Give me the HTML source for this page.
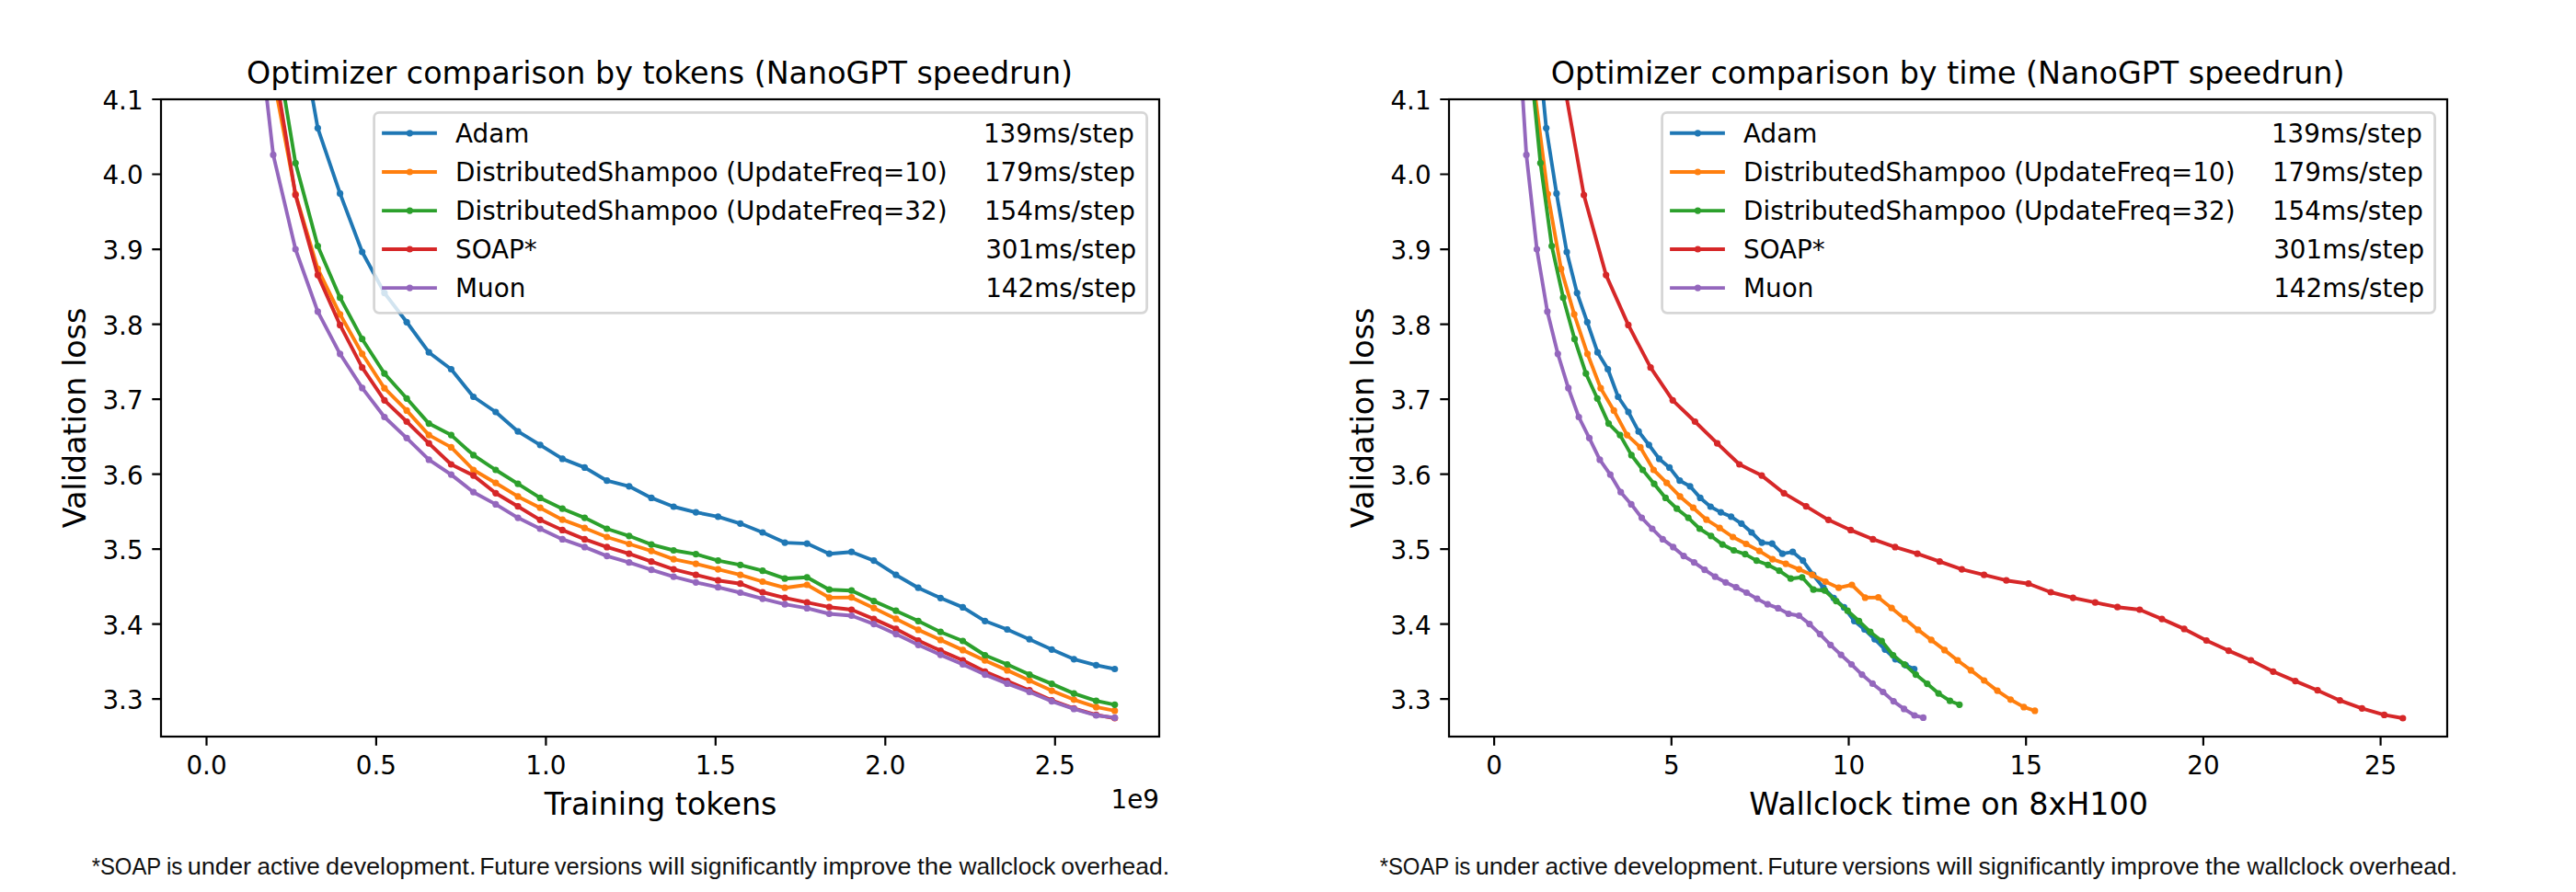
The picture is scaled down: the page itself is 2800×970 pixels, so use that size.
<!DOCTYPE html>
<html lang="en"><head><meta charset="utf-8"><title>Optimizer comparison (NanoGPT speedrun)</title>
<style>html,body{margin:0;padding:0;background:#fff;}body{width:2800px;height:970px;overflow:hidden;}svg{display:block;}text{font-family:'DejaVu Sans','Liberation Sans',sans-serif;fill:#000;}text.fn{font-family:"Liberation Sans","DejaVu Sans",sans-serif;fill:#111;}</style></head><body>
<svg width="2800" height="970" viewBox="0 0 2800 970">
<rect x="0" y="0" width="2800" height="970" fill="#ffffff"/>
<defs><clipPath id="cl"><rect x="175" y="108" width="1085" height="693"/></clipPath><clipPath id="cr"><rect x="1575" y="108" width="1085" height="693"/></clipPath></defs>
<g clip-path="url(#cl)">
<polyline fill="none" stroke="#1f77b4" stroke-width="3.90" stroke-linejoin="round" stroke-linecap="butt" points="321.2,2.6 345.4,139.3 369.6,210.4 393.7,274.0 417.9,318.6 442.1,350.3 466.2,383.2 490.4,401.5 514.6,431.5 538.8,448.0 563.0,469.2 587.1,483.8 611.3,498.9 635.5,508.4 659.7,522.7 683.8,528.8 708.0,541.4 732.2,551.0 756.4,557.1 780.5,561.8 804.7,569.3 828.9,579.0 853.1,590.1 877.2,591.1 901.4,602.2 925.6,600.2 949.8,609.6 973.9,625.2 998.1,639.2 1022.3,650.3 1046.5,660.4 1070.6,675.3 1094.8,684.5 1119.0,695.2 1143.2,706.3 1167.3,716.8 1191.5,723.3 1211.7,727.5"/>
<g fill="#1f77b4"><circle cx="321.2" cy="2.6" r="3.6"/><circle cx="345.4" cy="139.3" r="3.6"/><circle cx="369.6" cy="210.4" r="3.6"/><circle cx="393.7" cy="274.0" r="3.6"/><circle cx="417.9" cy="318.6" r="3.6"/><circle cx="442.1" cy="350.3" r="3.6"/><circle cx="466.2" cy="383.2" r="3.6"/><circle cx="490.4" cy="401.5" r="3.6"/><circle cx="514.6" cy="431.5" r="3.6"/><circle cx="538.8" cy="448.0" r="3.6"/><circle cx="563.0" cy="469.2" r="3.6"/><circle cx="587.1" cy="483.8" r="3.6"/><circle cx="611.3" cy="498.9" r="3.6"/><circle cx="635.5" cy="508.4" r="3.6"/><circle cx="659.7" cy="522.7" r="3.6"/><circle cx="683.8" cy="528.8" r="3.6"/><circle cx="708.0" cy="541.4" r="3.6"/><circle cx="732.2" cy="551.0" r="3.6"/><circle cx="756.4" cy="557.1" r="3.6"/><circle cx="780.5" cy="561.8" r="3.6"/><circle cx="804.7" cy="569.3" r="3.6"/><circle cx="828.9" cy="579.0" r="3.6"/><circle cx="853.1" cy="590.1" r="3.6"/><circle cx="877.2" cy="591.1" r="3.6"/><circle cx="901.4" cy="602.2" r="3.6"/><circle cx="925.6" cy="600.2" r="3.6"/><circle cx="949.8" cy="609.6" r="3.6"/><circle cx="973.9" cy="625.2" r="3.6"/><circle cx="998.1" cy="639.2" r="3.6"/><circle cx="1022.3" cy="650.3" r="3.6"/><circle cx="1046.5" cy="660.4" r="3.6"/><circle cx="1070.6" cy="675.3" r="3.6"/><circle cx="1094.8" cy="684.5" r="3.6"/><circle cx="1119.0" cy="695.2" r="3.6"/><circle cx="1143.2" cy="706.3" r="3.6"/><circle cx="1167.3" cy="716.8" r="3.6"/><circle cx="1191.5" cy="723.3" r="3.6"/><circle cx="1211.7" cy="727.5" r="3.6"/></g>
<polyline fill="none" stroke="#ff7f0e" stroke-width="3.90" stroke-linejoin="round" stroke-linecap="butt" points="297.0,83.0 321.2,211.0 345.4,292.4 369.6,341.8 393.7,384.8 417.9,422.2 442.1,446.4 466.2,473.1 490.4,486.4 514.6,511.0 538.8,525.2 563.0,539.9 587.1,552.2 611.3,565.2 635.5,574.2 659.7,584.0 683.8,591.5 708.0,599.1 732.2,608.2 756.4,613.1 780.5,619.1 804.7,625.2 828.9,632.5 853.1,639.2 877.2,636.0 901.4,649.9 925.6,649.7 949.8,661.2 973.9,672.9 998.1,684.9 1022.3,695.9 1046.5,706.9 1070.6,718.2 1094.8,728.9 1119.0,740.0 1143.2,751.1 1167.3,760.8 1191.5,768.9 1211.7,772.9"/>
<g fill="#ff7f0e"><circle cx="297.0" cy="83.0" r="3.6"/><circle cx="321.2" cy="211.0" r="3.6"/><circle cx="345.4" cy="292.4" r="3.6"/><circle cx="369.6" cy="341.8" r="3.6"/><circle cx="393.7" cy="384.8" r="3.6"/><circle cx="417.9" cy="422.2" r="3.6"/><circle cx="442.1" cy="446.4" r="3.6"/><circle cx="466.2" cy="473.1" r="3.6"/><circle cx="490.4" cy="486.4" r="3.6"/><circle cx="514.6" cy="511.0" r="3.6"/><circle cx="538.8" cy="525.2" r="3.6"/><circle cx="563.0" cy="539.9" r="3.6"/><circle cx="587.1" cy="552.2" r="3.6"/><circle cx="611.3" cy="565.2" r="3.6"/><circle cx="635.5" cy="574.2" r="3.6"/><circle cx="659.7" cy="584.0" r="3.6"/><circle cx="683.8" cy="591.5" r="3.6"/><circle cx="708.0" cy="599.1" r="3.6"/><circle cx="732.2" cy="608.2" r="3.6"/><circle cx="756.4" cy="613.1" r="3.6"/><circle cx="780.5" cy="619.1" r="3.6"/><circle cx="804.7" cy="625.2" r="3.6"/><circle cx="828.9" cy="632.5" r="3.6"/><circle cx="853.1" cy="639.2" r="3.6"/><circle cx="877.2" cy="636.0" r="3.6"/><circle cx="901.4" cy="649.9" r="3.6"/><circle cx="925.6" cy="649.7" r="3.6"/><circle cx="949.8" cy="661.2" r="3.6"/><circle cx="973.9" cy="672.9" r="3.6"/><circle cx="998.1" cy="684.9" r="3.6"/><circle cx="1022.3" cy="695.9" r="3.6"/><circle cx="1046.5" cy="706.9" r="3.6"/><circle cx="1070.6" cy="718.2" r="3.6"/><circle cx="1094.8" cy="728.9" r="3.6"/><circle cx="1119.0" cy="740.0" r="3.6"/><circle cx="1143.2" cy="751.1" r="3.6"/><circle cx="1167.3" cy="760.8" r="3.6"/><circle cx="1191.5" cy="768.9" r="3.6"/><circle cx="1211.7" cy="772.9" r="3.6"/></g>
<polyline fill="none" stroke="#2ca02c" stroke-width="3.90" stroke-linejoin="round" stroke-linecap="butt" points="297.0,31.5 321.2,177.3 345.4,267.5 369.6,323.7 393.7,368.7 417.9,406.2 442.1,433.3 466.2,460.6 490.4,473.1 514.6,494.9 538.8,511.0 563.0,526.2 587.1,541.4 611.3,553.2 635.5,563.1 659.7,575.0 683.8,582.8 708.0,592.1 732.2,598.5 756.4,602.6 780.5,609.6 804.7,614.3 828.9,620.7 853.1,629.2 877.2,627.8 901.4,641.2 925.6,642.2 949.8,653.6 973.9,664.2 998.1,675.3 1022.3,687.2 1046.5,697.0 1070.6,712.5 1094.8,722.5 1119.0,733.6 1143.2,743.6 1167.3,754.1 1191.5,762.2 1211.7,766.3"/>
<g fill="#2ca02c"><circle cx="297.0" cy="31.5" r="3.6"/><circle cx="321.2" cy="177.3" r="3.6"/><circle cx="345.4" cy="267.5" r="3.6"/><circle cx="369.6" cy="323.7" r="3.6"/><circle cx="393.7" cy="368.7" r="3.6"/><circle cx="417.9" cy="406.2" r="3.6"/><circle cx="442.1" cy="433.3" r="3.6"/><circle cx="466.2" cy="460.6" r="3.6"/><circle cx="490.4" cy="473.1" r="3.6"/><circle cx="514.6" cy="494.9" r="3.6"/><circle cx="538.8" cy="511.0" r="3.6"/><circle cx="563.0" cy="526.2" r="3.6"/><circle cx="587.1" cy="541.4" r="3.6"/><circle cx="611.3" cy="553.2" r="3.6"/><circle cx="635.5" cy="563.1" r="3.6"/><circle cx="659.7" cy="575.0" r="3.6"/><circle cx="683.8" cy="582.8" r="3.6"/><circle cx="708.0" cy="592.1" r="3.6"/><circle cx="732.2" cy="598.5" r="3.6"/><circle cx="756.4" cy="602.6" r="3.6"/><circle cx="780.5" cy="609.6" r="3.6"/><circle cx="804.7" cy="614.3" r="3.6"/><circle cx="828.9" cy="620.7" r="3.6"/><circle cx="853.1" cy="629.2" r="3.6"/><circle cx="877.2" cy="627.8" r="3.6"/><circle cx="901.4" cy="641.2" r="3.6"/><circle cx="925.6" cy="642.2" r="3.6"/><circle cx="949.8" cy="653.6" r="3.6"/><circle cx="973.9" cy="664.2" r="3.6"/><circle cx="998.1" cy="675.3" r="3.6"/><circle cx="1022.3" cy="687.2" r="3.6"/><circle cx="1046.5" cy="697.0" r="3.6"/><circle cx="1070.6" cy="712.5" r="3.6"/><circle cx="1094.8" cy="722.5" r="3.6"/><circle cx="1119.0" cy="733.6" r="3.6"/><circle cx="1143.2" cy="743.6" r="3.6"/><circle cx="1167.3" cy="754.1" r="3.6"/><circle cx="1191.5" cy="762.2" r="3.6"/><circle cx="1211.7" cy="766.3" r="3.6"/></g>
<polyline fill="none" stroke="#d62728" stroke-width="3.90" stroke-linejoin="round" stroke-linecap="butt" points="297.0,64.0 321.2,212.0 345.4,299.1 369.6,353.4 393.7,399.7 417.9,435.3 442.1,458.5 466.2,482.2 490.4,505.0 514.6,517.1 538.8,536.3 563.0,550.7 587.1,565.3 611.3,576.4 635.5,586.4 659.7,594.9 683.8,602.2 708.0,610.7 732.2,619.1 756.4,625.2 780.5,631.2 804.7,634.7 828.9,644.0 853.1,650.1 877.2,655.2 901.4,660.2 925.6,663.0 949.8,673.1 973.9,683.9 998.1,696.5 1022.3,707.6 1046.5,718.0 1070.6,730.3 1094.8,740.6 1119.0,750.7 1143.2,761.6 1167.3,770.3 1191.5,777.4 1211.7,781.0"/>
<g fill="#d62728"><circle cx="297.0" cy="64.0" r="3.6"/><circle cx="321.2" cy="212.0" r="3.6"/><circle cx="345.4" cy="299.1" r="3.6"/><circle cx="369.6" cy="353.4" r="3.6"/><circle cx="393.7" cy="399.7" r="3.6"/><circle cx="417.9" cy="435.3" r="3.6"/><circle cx="442.1" cy="458.5" r="3.6"/><circle cx="466.2" cy="482.2" r="3.6"/><circle cx="490.4" cy="505.0" r="3.6"/><circle cx="514.6" cy="517.1" r="3.6"/><circle cx="538.8" cy="536.3" r="3.6"/><circle cx="563.0" cy="550.7" r="3.6"/><circle cx="587.1" cy="565.3" r="3.6"/><circle cx="611.3" cy="576.4" r="3.6"/><circle cx="635.5" cy="586.4" r="3.6"/><circle cx="659.7" cy="594.9" r="3.6"/><circle cx="683.8" cy="602.2" r="3.6"/><circle cx="708.0" cy="610.7" r="3.6"/><circle cx="732.2" cy="619.1" r="3.6"/><circle cx="756.4" cy="625.2" r="3.6"/><circle cx="780.5" cy="631.2" r="3.6"/><circle cx="804.7" cy="634.7" r="3.6"/><circle cx="828.9" cy="644.0" r="3.6"/><circle cx="853.1" cy="650.1" r="3.6"/><circle cx="877.2" cy="655.2" r="3.6"/><circle cx="901.4" cy="660.2" r="3.6"/><circle cx="925.6" cy="663.0" r="3.6"/><circle cx="949.8" cy="673.1" r="3.6"/><circle cx="973.9" cy="683.9" r="3.6"/><circle cx="998.1" cy="696.5" r="3.6"/><circle cx="1022.3" cy="707.6" r="3.6"/><circle cx="1046.5" cy="718.0" r="3.6"/><circle cx="1070.6" cy="730.3" r="3.6"/><circle cx="1094.8" cy="740.6" r="3.6"/><circle cx="1119.0" cy="750.7" r="3.6"/><circle cx="1143.2" cy="761.6" r="3.6"/><circle cx="1167.3" cy="770.3" r="3.6"/><circle cx="1191.5" cy="777.4" r="3.6"/><circle cx="1211.7" cy="781.0" r="3.6"/></g>
<polyline fill="none" stroke="#9467bd" stroke-width="3.90" stroke-linejoin="round" stroke-linecap="butt" points="272.9,-43.0 297.0,168.4 321.2,271.0 345.4,338.8 369.6,384.8 393.7,421.9 417.9,453.5 442.1,476.3 466.2,499.9 490.4,516.1 514.6,535.2 538.8,548.4 563.0,563.1 587.1,575.0 611.3,586.4 635.5,594.9 659.7,604.6 683.8,611.7 708.0,619.7 732.2,627.2 756.4,633.3 780.5,638.7 804.7,644.5 828.9,651.1 853.1,657.2 877.2,661.4 901.4,667.5 925.6,669.5 949.8,678.6 973.9,689.6 998.1,701.3 1022.3,712.1 1046.5,722.5 1070.6,733.6 1094.8,743.4 1119.0,752.5 1143.2,762.6 1167.3,770.9 1191.5,778.0 1211.7,780.4"/>
<g fill="#9467bd"><circle cx="272.9" cy="-43.0" r="3.6"/><circle cx="297.0" cy="168.4" r="3.6"/><circle cx="321.2" cy="271.0" r="3.6"/><circle cx="345.4" cy="338.8" r="3.6"/><circle cx="369.6" cy="384.8" r="3.6"/><circle cx="393.7" cy="421.9" r="3.6"/><circle cx="417.9" cy="453.5" r="3.6"/><circle cx="442.1" cy="476.3" r="3.6"/><circle cx="466.2" cy="499.9" r="3.6"/><circle cx="490.4" cy="516.1" r="3.6"/><circle cx="514.6" cy="535.2" r="3.6"/><circle cx="538.8" cy="548.4" r="3.6"/><circle cx="563.0" cy="563.1" r="3.6"/><circle cx="587.1" cy="575.0" r="3.6"/><circle cx="611.3" cy="586.4" r="3.6"/><circle cx="635.5" cy="594.9" r="3.6"/><circle cx="659.7" cy="604.6" r="3.6"/><circle cx="683.8" cy="611.7" r="3.6"/><circle cx="708.0" cy="619.7" r="3.6"/><circle cx="732.2" cy="627.2" r="3.6"/><circle cx="756.4" cy="633.3" r="3.6"/><circle cx="780.5" cy="638.7" r="3.6"/><circle cx="804.7" cy="644.5" r="3.6"/><circle cx="828.9" cy="651.1" r="3.6"/><circle cx="853.1" cy="657.2" r="3.6"/><circle cx="877.2" cy="661.4" r="3.6"/><circle cx="901.4" cy="667.5" r="3.6"/><circle cx="925.6" cy="669.5" r="3.6"/><circle cx="949.8" cy="678.6" r="3.6"/><circle cx="973.9" cy="689.6" r="3.6"/><circle cx="998.1" cy="701.3" r="3.6"/><circle cx="1022.3" cy="712.1" r="3.6"/><circle cx="1046.5" cy="722.5" r="3.6"/><circle cx="1070.6" cy="733.6" r="3.6"/><circle cx="1094.8" cy="743.4" r="3.6"/><circle cx="1119.0" cy="752.5" r="3.6"/><circle cx="1143.2" cy="762.6" r="3.6"/><circle cx="1167.3" cy="770.9" r="3.6"/><circle cx="1191.5" cy="778.0" r="3.6"/><circle cx="1211.7" cy="780.4" r="3.6"/></g>
</g>
<path d="M224.5,801.0v9.7M408.9,801.0v9.7M593.4,801.0v9.7M777.8,801.0v9.7M962.3,801.0v9.7M1146.8,801.0v9.7M175.0,760.2h-9.7M175.0,678.7h-9.7M175.0,597.2h-9.7M175.0,515.6h-9.7M175.0,434.1h-9.7M175.0,352.6h-9.7M175.0,271.1h-9.7M175.0,189.5h-9.7M175.0,108.0h-9.7" stroke="#000" stroke-width="2.2" fill="none"/>
<rect x="175.0" y="108.0" width="1085.0" height="693.0" fill="none" stroke="#000" stroke-width="2.2"/>
<text x="224.5" y="842.0" font-size="27.78" text-anchor="middle">0.0</text>
<text x="408.9" y="842.0" font-size="27.78" text-anchor="middle">0.5</text>
<text x="593.4" y="842.0" font-size="27.78" text-anchor="middle">1.0</text>
<text x="777.8" y="842.0" font-size="27.78" text-anchor="middle">1.5</text>
<text x="962.3" y="842.0" font-size="27.78" text-anchor="middle">2.0</text>
<text x="1146.8" y="842.0" font-size="27.78" text-anchor="middle">2.5</text>
<text x="155.6" y="771.1" font-size="27.78" text-anchor="end">3.3</text>
<text x="155.6" y="689.6" font-size="27.78" text-anchor="end">3.4</text>
<text x="155.6" y="608.1" font-size="27.78" text-anchor="end">3.5</text>
<text x="155.6" y="526.5" font-size="27.78" text-anchor="end">3.6</text>
<text x="155.6" y="445.0" font-size="27.78" text-anchor="end">3.7</text>
<text x="155.6" y="363.5" font-size="27.78" text-anchor="end">3.8</text>
<text x="155.6" y="282.0" font-size="27.78" text-anchor="end">3.9</text>
<text x="155.6" y="200.4" font-size="27.78" text-anchor="end">4.0</text>
<text x="155.6" y="118.9" font-size="27.78" text-anchor="end">4.1</text>
<text x="717.1" y="91.3" font-size="33.33" text-anchor="middle">Optimizer comparison by tokens (NanoGPT speedrun)</text>
<text x="718.1" y="886" font-size="33.33" text-anchor="middle">Training tokens</text>
<text transform="translate(92.5,454.5) rotate(-90)" font-size="33.33" text-anchor="middle">Validation loss</text>
<text x="1260.0" y="879" font-size="27.78" text-anchor="end">1e9</text>
<rect x="406.6" y="122.4" width="840.0" height="217.9" rx="5.5" ry="5.5" fill="#ffffff" fill-opacity="0.8" stroke="#cccccc" stroke-opacity="0.8" stroke-width="2.8"/>
<path d="M415.1,144.8h59.8" stroke="#1f77b4" stroke-width="3.90" fill="none"/>
<circle cx="445.4" cy="144.8" r="3.6" fill="#1f77b4"/>
<text x="495.1" y="155.1" font-size="27.78">Adam</text>
<text x="1068.9" y="155.1" font-size="27.78">139ms/step</text>
<path d="M415.1,187.0h59.8" stroke="#ff7f0e" stroke-width="3.90" fill="none"/>
<circle cx="445.4" cy="187.0" r="3.6" fill="#ff7f0e"/>
<text x="495.1" y="197.3" font-size="27.78">DistributedShampoo (UpdateFreq=10)</text>
<text x="1069.9" y="197.3" font-size="27.78">179ms/step</text>
<path d="M415.1,229.1h59.8" stroke="#2ca02c" stroke-width="3.90" fill="none"/>
<circle cx="445.4" cy="229.1" r="3.6" fill="#2ca02c"/>
<text x="495.1" y="239.4" font-size="27.78">DistributedShampoo (UpdateFreq=32)</text>
<text x="1069.9" y="239.4" font-size="27.78">154ms/step</text>
<path d="M415.1,271.0h59.8" stroke="#d62728" stroke-width="3.90" fill="none"/>
<circle cx="445.4" cy="271.0" r="3.6" fill="#d62728"/>
<text x="495.1" y="281.3" font-size="27.78">SOAP*</text>
<text x="1071.2" y="281.3" font-size="27.78">301ms/step</text>
<path d="M415.1,313.1h59.8" stroke="#9467bd" stroke-width="3.90" fill="none"/>
<circle cx="445.4" cy="313.1" r="3.6" fill="#9467bd"/>
<text x="495.1" y="323.4" font-size="27.78">Muon</text>
<text x="1071.2" y="323.4" font-size="27.78">142ms/step</text>
<text x="99.66" y="951.4" font-size="25.3" class="fn" textLength="75.56" lengthAdjust="spacingAndGlyphs">*SOAP</text>
<text x="180.95" y="951.4" font-size="25.3" class="fn" textLength="17.48" lengthAdjust="spacingAndGlyphs">is</text>
<text x="203.67" y="951.4" font-size="25.3" class="fn" textLength="69.48" lengthAdjust="spacingAndGlyphs">under</text>
<text x="279.55" y="951.4" font-size="25.3" class="fn" textLength="68.29" lengthAdjust="spacingAndGlyphs">active</text>
<text x="354.11" y="951.4" font-size="25.3" class="fn" textLength="163.38" lengthAdjust="spacingAndGlyphs">development.</text>
<text x="521.18" y="951.4" font-size="25.3" class="fn" textLength="76.47" lengthAdjust="spacingAndGlyphs">Future</text>
<text x="602.70" y="951.4" font-size="25.3" class="fn" textLength="95.27" lengthAdjust="spacingAndGlyphs">versions</text>
<text x="705.18" y="951.4" font-size="25.3" class="fn" textLength="39.33" lengthAdjust="spacingAndGlyphs">will</text>
<text x="750.47" y="951.4" font-size="25.3" class="fn" textLength="137.43" lengthAdjust="spacingAndGlyphs">significantly</text>
<text x="894.38" y="951.4" font-size="25.3" class="fn" textLength="96.30" lengthAdjust="spacingAndGlyphs">improve</text>
<text x="997.02" y="951.4" font-size="25.3" class="fn" textLength="38.48" lengthAdjust="spacingAndGlyphs">the</text>
<text x="1042.56" y="951.4" font-size="25.3" class="fn" textLength="104.88" lengthAdjust="spacingAndGlyphs">wallclock</text>
<text x="1153.24" y="951.4" font-size="25.3" class="fn" textLength="117.99" lengthAdjust="spacingAndGlyphs">overhead.</text>
<g clip-path="url(#cr)">
<polyline fill="none" stroke="#1f77b4" stroke-width="3.90" stroke-linejoin="round" stroke-linecap="butt" points="1667.5,2.6 1680.7,139.3 1691.9,210.4 1703.0,274.0 1714.2,318.6 1725.3,350.3 1736.5,383.2 1747.7,401.5 1758.8,431.5 1770.0,448.0 1781.1,469.2 1792.3,483.8 1803.5,498.9 1814.6,508.4 1825.8,522.7 1837.0,528.8 1848.1,541.4 1859.3,551.0 1870.4,557.1 1881.6,561.8 1892.8,569.3 1903.9,579.0 1915.1,590.1 1926.2,591.1 1937.4,602.2 1948.6,600.2 1959.7,609.6 1970.9,625.2 1982.0,639.2 1993.2,650.3 2004.4,660.4 2015.5,675.3 2026.7,684.5 2037.8,695.2 2049.0,706.3 2060.2,716.8 2071.3,723.3 2080.7,727.5"/>
<g fill="#1f77b4"><circle cx="1667.5" cy="2.6" r="3.6"/><circle cx="1680.7" cy="139.3" r="3.6"/><circle cx="1691.9" cy="210.4" r="3.6"/><circle cx="1703.0" cy="274.0" r="3.6"/><circle cx="1714.2" cy="318.6" r="3.6"/><circle cx="1725.3" cy="350.3" r="3.6"/><circle cx="1736.5" cy="383.2" r="3.6"/><circle cx="1747.7" cy="401.5" r="3.6"/><circle cx="1758.8" cy="431.5" r="3.6"/><circle cx="1770.0" cy="448.0" r="3.6"/><circle cx="1781.1" cy="469.2" r="3.6"/><circle cx="1792.3" cy="483.8" r="3.6"/><circle cx="1803.5" cy="498.9" r="3.6"/><circle cx="1814.6" cy="508.4" r="3.6"/><circle cx="1825.8" cy="522.7" r="3.6"/><circle cx="1837.0" cy="528.8" r="3.6"/><circle cx="1848.1" cy="541.4" r="3.6"/><circle cx="1859.3" cy="551.0" r="3.6"/><circle cx="1870.4" cy="557.1" r="3.6"/><circle cx="1881.6" cy="561.8" r="3.6"/><circle cx="1892.8" cy="569.3" r="3.6"/><circle cx="1903.9" cy="579.0" r="3.6"/><circle cx="1915.1" cy="590.1" r="3.6"/><circle cx="1926.2" cy="591.1" r="3.6"/><circle cx="1937.4" cy="602.2" r="3.6"/><circle cx="1948.6" cy="600.2" r="3.6"/><circle cx="1959.7" cy="609.6" r="3.6"/><circle cx="1970.9" cy="625.2" r="3.6"/><circle cx="1982.0" cy="639.2" r="3.6"/><circle cx="1993.2" cy="650.3" r="3.6"/><circle cx="2004.4" cy="660.4" r="3.6"/><circle cx="2015.5" cy="675.3" r="3.6"/><circle cx="2026.7" cy="684.5" r="3.6"/><circle cx="2037.8" cy="695.2" r="3.6"/><circle cx="2049.0" cy="706.3" r="3.6"/><circle cx="2060.2" cy="716.8" r="3.6"/><circle cx="2071.3" cy="723.3" r="3.6"/><circle cx="2080.7" cy="727.5" r="3.6"/></g>
<polyline fill="none" stroke="#ff7f0e" stroke-width="3.90" stroke-linejoin="round" stroke-linecap="butt" points="1666.0,83.0 1682.4,211.0 1696.8,292.4 1711.1,341.8 1725.5,384.8 1739.9,422.2 1754.2,446.4 1768.6,473.1 1783.0,486.4 1797.4,511.0 1811.7,525.2 1826.1,539.9 1840.5,552.2 1854.9,565.2 1869.2,574.2 1883.6,584.0 1898.0,591.5 1912.3,599.1 1926.7,608.2 1941.1,613.1 1955.5,619.1 1969.8,625.2 1984.2,632.5 1998.6,639.2 2012.9,636.0 2027.3,649.9 2041.7,649.7 2056.1,661.2 2070.4,672.9 2084.8,684.9 2099.2,695.9 2113.6,706.9 2127.9,718.2 2142.3,728.9 2156.7,740.0 2171.0,751.1 2185.4,760.8 2199.8,768.9 2211.8,772.9"/>
<g fill="#ff7f0e"><circle cx="1666.0" cy="83.0" r="3.6"/><circle cx="1682.4" cy="211.0" r="3.6"/><circle cx="1696.8" cy="292.4" r="3.6"/><circle cx="1711.1" cy="341.8" r="3.6"/><circle cx="1725.5" cy="384.8" r="3.6"/><circle cx="1739.9" cy="422.2" r="3.6"/><circle cx="1754.2" cy="446.4" r="3.6"/><circle cx="1768.6" cy="473.1" r="3.6"/><circle cx="1783.0" cy="486.4" r="3.6"/><circle cx="1797.4" cy="511.0" r="3.6"/><circle cx="1811.7" cy="525.2" r="3.6"/><circle cx="1826.1" cy="539.9" r="3.6"/><circle cx="1840.5" cy="552.2" r="3.6"/><circle cx="1854.9" cy="565.2" r="3.6"/><circle cx="1869.2" cy="574.2" r="3.6"/><circle cx="1883.6" cy="584.0" r="3.6"/><circle cx="1898.0" cy="591.5" r="3.6"/><circle cx="1912.3" cy="599.1" r="3.6"/><circle cx="1926.7" cy="608.2" r="3.6"/><circle cx="1941.1" cy="613.1" r="3.6"/><circle cx="1955.5" cy="619.1" r="3.6"/><circle cx="1969.8" cy="625.2" r="3.6"/><circle cx="1984.2" cy="632.5" r="3.6"/><circle cx="1998.6" cy="639.2" r="3.6"/><circle cx="2012.9" cy="636.0" r="3.6"/><circle cx="2027.3" cy="649.9" r="3.6"/><circle cx="2041.7" cy="649.7" r="3.6"/><circle cx="2056.1" cy="661.2" r="3.6"/><circle cx="2070.4" cy="672.9" r="3.6"/><circle cx="2084.8" cy="684.9" r="3.6"/><circle cx="2099.2" cy="695.9" r="3.6"/><circle cx="2113.6" cy="706.9" r="3.6"/><circle cx="2127.9" cy="718.2" r="3.6"/><circle cx="2142.3" cy="728.9" r="3.6"/><circle cx="2156.7" cy="740.0" r="3.6"/><circle cx="2171.0" cy="751.1" r="3.6"/><circle cx="2185.4" cy="760.8" r="3.6"/><circle cx="2199.8" cy="768.9" r="3.6"/><circle cx="2211.8" cy="772.9" r="3.6"/></g>
<polyline fill="none" stroke="#2ca02c" stroke-width="3.90" stroke-linejoin="round" stroke-linecap="butt" points="1660.0,31.5 1674.4,177.3 1686.7,267.5 1699.1,323.7 1711.5,368.7 1723.8,406.2 1736.2,433.3 1748.5,460.6 1760.9,473.1 1773.3,494.9 1785.6,511.0 1798.0,526.2 1810.4,541.4 1822.7,553.2 1835.1,563.1 1847.5,575.0 1859.8,582.8 1872.2,592.1 1884.6,598.5 1896.9,602.6 1909.3,609.6 1921.7,614.3 1934.0,620.7 1946.4,629.2 1958.8,627.8 1971.1,641.2 1983.5,642.2 1995.8,653.6 2008.2,664.2 2020.6,675.3 2032.9,687.2 2045.3,697.0 2057.7,712.5 2070.0,722.5 2082.4,733.6 2094.8,743.6 2107.1,754.1 2119.5,762.2 2129.8,766.3"/>
<g fill="#2ca02c"><circle cx="1660.0" cy="31.5" r="3.6"/><circle cx="1674.4" cy="177.3" r="3.6"/><circle cx="1686.7" cy="267.5" r="3.6"/><circle cx="1699.1" cy="323.7" r="3.6"/><circle cx="1711.5" cy="368.7" r="3.6"/><circle cx="1723.8" cy="406.2" r="3.6"/><circle cx="1736.2" cy="433.3" r="3.6"/><circle cx="1748.5" cy="460.6" r="3.6"/><circle cx="1760.9" cy="473.1" r="3.6"/><circle cx="1773.3" cy="494.9" r="3.6"/><circle cx="1785.6" cy="511.0" r="3.6"/><circle cx="1798.0" cy="526.2" r="3.6"/><circle cx="1810.4" cy="541.4" r="3.6"/><circle cx="1822.7" cy="553.2" r="3.6"/><circle cx="1835.1" cy="563.1" r="3.6"/><circle cx="1847.5" cy="575.0" r="3.6"/><circle cx="1859.8" cy="582.8" r="3.6"/><circle cx="1872.2" cy="592.1" r="3.6"/><circle cx="1884.6" cy="598.5" r="3.6"/><circle cx="1896.9" cy="602.6" r="3.6"/><circle cx="1909.3" cy="609.6" r="3.6"/><circle cx="1921.7" cy="614.3" r="3.6"/><circle cx="1934.0" cy="620.7" r="3.6"/><circle cx="1946.4" cy="629.2" r="3.6"/><circle cx="1958.8" cy="627.8" r="3.6"/><circle cx="1971.1" cy="641.2" r="3.6"/><circle cx="1983.5" cy="642.2" r="3.6"/><circle cx="1995.8" cy="653.6" r="3.6"/><circle cx="2008.2" cy="664.2" r="3.6"/><circle cx="2020.6" cy="675.3" r="3.6"/><circle cx="2032.9" cy="687.2" r="3.6"/><circle cx="2045.3" cy="697.0" r="3.6"/><circle cx="2057.7" cy="712.5" r="3.6"/><circle cx="2070.0" cy="722.5" r="3.6"/><circle cx="2082.4" cy="733.6" r="3.6"/><circle cx="2094.8" cy="743.6" r="3.6"/><circle cx="2107.1" cy="754.1" r="3.6"/><circle cx="2119.5" cy="762.2" r="3.6"/><circle cx="2129.8" cy="766.3" r="3.6"/></g>
<polyline fill="none" stroke="#d62728" stroke-width="3.90" stroke-linejoin="round" stroke-linecap="butt" points="1695.4,64.0 1721.6,212.0 1745.7,299.1 1769.9,353.4 1794.1,399.7 1818.2,435.3 1842.4,458.5 1866.6,482.2 1890.7,505.0 1914.9,517.1 1939.1,536.3 1963.2,550.7 1987.4,565.3 2011.6,576.4 2035.8,586.4 2059.9,594.9 2084.1,602.2 2108.3,610.7 2132.4,619.1 2156.6,625.2 2180.8,631.2 2204.9,634.7 2229.1,644.0 2253.3,650.1 2277.4,655.2 2301.6,660.2 2325.8,663.0 2349.9,673.1 2374.1,683.9 2398.3,696.5 2422.4,707.6 2446.6,718.0 2470.8,730.3 2494.9,740.6 2519.1,750.7 2543.3,761.6 2567.4,770.3 2591.6,777.4 2611.8,781.0"/>
<g fill="#d62728"><circle cx="1695.4" cy="64.0" r="3.6"/><circle cx="1721.6" cy="212.0" r="3.6"/><circle cx="1745.7" cy="299.1" r="3.6"/><circle cx="1769.9" cy="353.4" r="3.6"/><circle cx="1794.1" cy="399.7" r="3.6"/><circle cx="1818.2" cy="435.3" r="3.6"/><circle cx="1842.4" cy="458.5" r="3.6"/><circle cx="1866.6" cy="482.2" r="3.6"/><circle cx="1890.7" cy="505.0" r="3.6"/><circle cx="1914.9" cy="517.1" r="3.6"/><circle cx="1939.1" cy="536.3" r="3.6"/><circle cx="1963.2" cy="550.7" r="3.6"/><circle cx="1987.4" cy="565.3" r="3.6"/><circle cx="2011.6" cy="576.4" r="3.6"/><circle cx="2035.8" cy="586.4" r="3.6"/><circle cx="2059.9" cy="594.9" r="3.6"/><circle cx="2084.1" cy="602.2" r="3.6"/><circle cx="2108.3" cy="610.7" r="3.6"/><circle cx="2132.4" cy="619.1" r="3.6"/><circle cx="2156.6" cy="625.2" r="3.6"/><circle cx="2180.8" cy="631.2" r="3.6"/><circle cx="2204.9" cy="634.7" r="3.6"/><circle cx="2229.1" cy="644.0" r="3.6"/><circle cx="2253.3" cy="650.1" r="3.6"/><circle cx="2277.4" cy="655.2" r="3.6"/><circle cx="2301.6" cy="660.2" r="3.6"/><circle cx="2325.8" cy="663.0" r="3.6"/><circle cx="2349.9" cy="673.1" r="3.6"/><circle cx="2374.1" cy="683.9" r="3.6"/><circle cx="2398.3" cy="696.5" r="3.6"/><circle cx="2422.4" cy="707.6" r="3.6"/><circle cx="2446.6" cy="718.0" r="3.6"/><circle cx="2470.8" cy="730.3" r="3.6"/><circle cx="2494.9" cy="740.6" r="3.6"/><circle cx="2519.1" cy="750.7" r="3.6"/><circle cx="2543.3" cy="761.6" r="3.6"/><circle cx="2567.4" cy="770.3" r="3.6"/><circle cx="2591.6" cy="777.4" r="3.6"/><circle cx="2611.8" cy="781.0" r="3.6"/></g>
<polyline fill="none" stroke="#9467bd" stroke-width="3.90" stroke-linejoin="round" stroke-linecap="butt" points="1645.7,-43.0 1659.1,168.4 1670.5,271.0 1681.9,338.8 1693.3,384.8 1704.7,421.9 1716.1,453.5 1727.5,476.3 1738.9,499.9 1750.3,516.1 1761.7,535.2 1773.1,548.4 1784.5,563.1 1795.9,575.0 1807.3,586.4 1818.7,594.9 1830.1,604.6 1841.5,611.7 1852.9,619.7 1864.3,627.2 1875.7,633.3 1887.1,638.7 1898.5,644.5 1909.9,651.1 1921.3,657.2 1932.7,661.4 1944.1,667.5 1955.5,669.5 1966.9,678.6 1978.3,689.6 1989.7,701.3 2001.1,712.1 2012.5,722.5 2023.9,733.6 2035.4,743.4 2046.8,752.5 2058.2,762.6 2069.6,770.9 2081.0,778.0 2090.5,780.4"/>
<g fill="#9467bd"><circle cx="1645.7" cy="-43.0" r="3.6"/><circle cx="1659.1" cy="168.4" r="3.6"/><circle cx="1670.5" cy="271.0" r="3.6"/><circle cx="1681.9" cy="338.8" r="3.6"/><circle cx="1693.3" cy="384.8" r="3.6"/><circle cx="1704.7" cy="421.9" r="3.6"/><circle cx="1716.1" cy="453.5" r="3.6"/><circle cx="1727.5" cy="476.3" r="3.6"/><circle cx="1738.9" cy="499.9" r="3.6"/><circle cx="1750.3" cy="516.1" r="3.6"/><circle cx="1761.7" cy="535.2" r="3.6"/><circle cx="1773.1" cy="548.4" r="3.6"/><circle cx="1784.5" cy="563.1" r="3.6"/><circle cx="1795.9" cy="575.0" r="3.6"/><circle cx="1807.3" cy="586.4" r="3.6"/><circle cx="1818.7" cy="594.9" r="3.6"/><circle cx="1830.1" cy="604.6" r="3.6"/><circle cx="1841.5" cy="611.7" r="3.6"/><circle cx="1852.9" cy="619.7" r="3.6"/><circle cx="1864.3" cy="627.2" r="3.6"/><circle cx="1875.7" cy="633.3" r="3.6"/><circle cx="1887.1" cy="638.7" r="3.6"/><circle cx="1898.5" cy="644.5" r="3.6"/><circle cx="1909.9" cy="651.1" r="3.6"/><circle cx="1921.3" cy="657.2" r="3.6"/><circle cx="1932.7" cy="661.4" r="3.6"/><circle cx="1944.1" cy="667.5" r="3.6"/><circle cx="1955.5" cy="669.5" r="3.6"/><circle cx="1966.9" cy="678.6" r="3.6"/><circle cx="1978.3" cy="689.6" r="3.6"/><circle cx="1989.7" cy="701.3" r="3.6"/><circle cx="2001.1" cy="712.1" r="3.6"/><circle cx="2012.5" cy="722.5" r="3.6"/><circle cx="2023.9" cy="733.6" r="3.6"/><circle cx="2035.4" cy="743.4" r="3.6"/><circle cx="2046.8" cy="752.5" r="3.6"/><circle cx="2058.2" cy="762.6" r="3.6"/><circle cx="2069.6" cy="770.9" r="3.6"/><circle cx="2081.0" cy="778.0" r="3.6"/><circle cx="2090.5" cy="780.4" r="3.6"/></g>
</g>
<path d="M1624.1,801.0v9.7M1816.8,801.0v9.7M2009.5,801.0v9.7M2202.2,801.0v9.7M2394.9,801.0v9.7M2587.6,801.0v9.7M1575.0,760.2h-9.7M1575.0,678.7h-9.7M1575.0,597.2h-9.7M1575.0,515.6h-9.7M1575.0,434.1h-9.7M1575.0,352.6h-9.7M1575.0,271.1h-9.7M1575.0,189.5h-9.7M1575.0,108.0h-9.7" stroke="#000" stroke-width="2.2" fill="none"/>
<rect x="1575.0" y="108.0" width="1085.0" height="693.0" fill="none" stroke="#000" stroke-width="2.2"/>
<text x="1624.1" y="842.0" font-size="27.78" text-anchor="middle">0</text>
<text x="1816.8" y="842.0" font-size="27.78" text-anchor="middle">5</text>
<text x="2009.5" y="842.0" font-size="27.78" text-anchor="middle">10</text>
<text x="2202.2" y="842.0" font-size="27.78" text-anchor="middle">15</text>
<text x="2394.9" y="842.0" font-size="27.78" text-anchor="middle">20</text>
<text x="2587.6" y="842.0" font-size="27.78" text-anchor="middle">25</text>
<text x="1555.6" y="771.1" font-size="27.78" text-anchor="end">3.3</text>
<text x="1555.6" y="689.6" font-size="27.78" text-anchor="end">3.4</text>
<text x="1555.6" y="608.1" font-size="27.78" text-anchor="end">3.5</text>
<text x="1555.6" y="526.5" font-size="27.78" text-anchor="end">3.6</text>
<text x="1555.6" y="445.0" font-size="27.78" text-anchor="end">3.7</text>
<text x="1555.6" y="363.5" font-size="27.78" text-anchor="end">3.8</text>
<text x="1555.6" y="282.0" font-size="27.78" text-anchor="end">3.9</text>
<text x="1555.6" y="200.4" font-size="27.78" text-anchor="end">4.0</text>
<text x="1555.6" y="118.9" font-size="27.78" text-anchor="end">4.1</text>
<text x="2117.1" y="91.3" font-size="33.33" text-anchor="middle">Optimizer comparison by time (NanoGPT speedrun)</text>
<text x="2118.1" y="886" font-size="33.33" text-anchor="middle">Wallclock time on 8xH100</text>
<text transform="translate(1492.5,454.5) rotate(-90)" font-size="33.33" text-anchor="middle">Validation loss</text>
<rect x="1806.6" y="122.4" width="840.0" height="217.9" rx="5.5" ry="5.5" fill="#ffffff" fill-opacity="0.8" stroke="#cccccc" stroke-opacity="0.8" stroke-width="2.8"/>
<path d="M1815.1,144.8h59.8" stroke="#1f77b4" stroke-width="3.90" fill="none"/>
<circle cx="1845.4" cy="144.8" r="3.6" fill="#1f77b4"/>
<text x="1895.1" y="155.1" font-size="27.78">Adam</text>
<text x="2468.9" y="155.1" font-size="27.78">139ms/step</text>
<path d="M1815.1,187.0h59.8" stroke="#ff7f0e" stroke-width="3.90" fill="none"/>
<circle cx="1845.4" cy="187.0" r="3.6" fill="#ff7f0e"/>
<text x="1895.1" y="197.3" font-size="27.78">DistributedShampoo (UpdateFreq=10)</text>
<text x="2469.9" y="197.3" font-size="27.78">179ms/step</text>
<path d="M1815.1,229.1h59.8" stroke="#2ca02c" stroke-width="3.90" fill="none"/>
<circle cx="1845.4" cy="229.1" r="3.6" fill="#2ca02c"/>
<text x="1895.1" y="239.4" font-size="27.78">DistributedShampoo (UpdateFreq=32)</text>
<text x="2469.9" y="239.4" font-size="27.78">154ms/step</text>
<path d="M1815.1,271.0h59.8" stroke="#d62728" stroke-width="3.90" fill="none"/>
<circle cx="1845.4" cy="271.0" r="3.6" fill="#d62728"/>
<text x="1895.1" y="281.3" font-size="27.78">SOAP*</text>
<text x="2471.2" y="281.3" font-size="27.78">301ms/step</text>
<path d="M1815.1,313.1h59.8" stroke="#9467bd" stroke-width="3.90" fill="none"/>
<circle cx="1845.4" cy="313.1" r="3.6" fill="#9467bd"/>
<text x="1895.1" y="323.4" font-size="27.78">Muon</text>
<text x="2471.2" y="323.4" font-size="27.78">142ms/step</text>
<text x="1499.66" y="951.4" font-size="25.3" class="fn" textLength="75.56" lengthAdjust="spacingAndGlyphs">*SOAP</text>
<text x="1580.95" y="951.4" font-size="25.3" class="fn" textLength="17.48" lengthAdjust="spacingAndGlyphs">is</text>
<text x="1603.67" y="951.4" font-size="25.3" class="fn" textLength="69.48" lengthAdjust="spacingAndGlyphs">under</text>
<text x="1679.55" y="951.4" font-size="25.3" class="fn" textLength="68.29" lengthAdjust="spacingAndGlyphs">active</text>
<text x="1754.11" y="951.4" font-size="25.3" class="fn" textLength="163.38" lengthAdjust="spacingAndGlyphs">development.</text>
<text x="1921.18" y="951.4" font-size="25.3" class="fn" textLength="76.47" lengthAdjust="spacingAndGlyphs">Future</text>
<text x="2002.70" y="951.4" font-size="25.3" class="fn" textLength="95.27" lengthAdjust="spacingAndGlyphs">versions</text>
<text x="2105.18" y="951.4" font-size="25.3" class="fn" textLength="39.33" lengthAdjust="spacingAndGlyphs">will</text>
<text x="2150.47" y="951.4" font-size="25.3" class="fn" textLength="137.43" lengthAdjust="spacingAndGlyphs">significantly</text>
<text x="2294.38" y="951.4" font-size="25.3" class="fn" textLength="96.30" lengthAdjust="spacingAndGlyphs">improve</text>
<text x="2397.02" y="951.4" font-size="25.3" class="fn" textLength="38.48" lengthAdjust="spacingAndGlyphs">the</text>
<text x="2442.56" y="951.4" font-size="25.3" class="fn" textLength="104.88" lengthAdjust="spacingAndGlyphs">wallclock</text>
<text x="2553.24" y="951.4" font-size="25.3" class="fn" textLength="117.99" lengthAdjust="spacingAndGlyphs">overhead.</text>
</svg></body></html>
